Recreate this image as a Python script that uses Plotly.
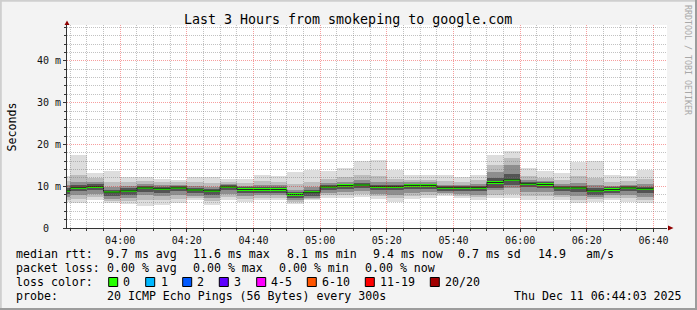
import plotly.graph_objects as go
import pandas as pd
import math

DAY = "2025-12-11"
X_START = "2025-12-11 03:44:03"
X_END = "2025-12-11 06:44:03"

slot_start = ["03:40", "03:45", "03:50", "03:55", "04:00", "04:05", "04:10", "04:15", "04:20", "04:25",
              "04:30", "04:35", "04:40", "04:45", "04:50", "04:55", "05:00", "05:05", "05:10", "05:15",
              "05:20", "05:25", "05:30", "05:35", "05:40", "05:45", "05:50", "05:55", "06:00", "06:05",
              "06:10", "06:15", "06:20", "06:25", "06:30", "06:35"]

median_ms = [8.9, 9.65, 9.9, 8.6, 8.9, 9.6, 9.4, 9.6, 9.1, 8.9,
             9.85, 9.2, 9.2, 9.2, 8.0, 8.55, 9.85, 10.15, 10.3, 9.9,
             9.9, 10.2, 10.2, 9.65, 9.65, 9.65, 10.9, 11.55, 10.6, 10.4,
             9.6, 9.6, 8.9, 9.2, 9.6, 9.4]

# smoke bands (outer -> inner), values in ms
smoke_hi1 = [12.5, 17.5, 13.1, 13.7, 12.3, 12.1, 11.8, 11.5, 12.1, 12.1,
             11.7, 11.7, 12.8, 12.5, 13.4, 13.9, 13.7, 14.4, 16.1, 16.3,
             14.0, 12.7, 12.7, 12.6, 12.3, 12.8, 17.5, 18.5, 14.3, 13.7,
             13.2, 15.8, 16.0, 12.7, 12.4, 13.9]
smoke_lo1 = [6.2, 5.9, 6.7, 5.9, 5.7, 5.3, 5.6, 6.1, 6.7, 5.6,
             6.7, 6.3, 6.7, 6.7, 5.7, 6.7, 7.1, 7.3, 7.5, 6.9,
             6.3, 6.9, 7.3, 7.7, 7.1, 6.7, 7.3, 7.1, 6.7, 6.7,
             6.7, 5.9, 6.3, 6.7, 6.3, 5.9]
smoke_hi2 = [11.2, 12.6, 12.0, 11.0, 11.0, 11.2, 11.0, 10.9, 10.9, 10.8,
             11.0, 10.8, 11.2, 11.0, 10.6, 11.0, 11.8, 12.2, 12.8, 12.5,
             11.8, 11.6, 11.6, 11.2, 11.0, 11.4, 15.1, 16.7, 12.4, 12.0,
             11.6, 12.4, 12.0, 11.0, 11.2, 11.8]
smoke_lo2 = [6.8, 7.0, 7.4, 6.5, 6.5, 6.6, 6.7, 7.0, 7.2, 6.4,
             7.4, 7.0, 7.2, 7.2, 6.2, 7.0, 7.8, 8.0, 8.1, 7.6,
             7.2, 7.7, 8.0, 8.1, 7.6, 7.4, 7.9, 8.1, 7.7, 7.7,
             7.4, 6.8, 6.9, 7.2, 7.1, 6.7]
smoke_hi3 = [10.2, 11.0, 11.0, 9.8, 10.0, 10.5, 10.3, 10.4, 10.1, 9.9,
             10.6, 10.1, 10.3, 10.2, 9.2, 9.8, 10.8, 11.1, 11.4, 11.1,
             10.9, 10.9, 10.9, 10.4, 10.4, 10.5, 13.5, 15.1, 11.6, 11.3,
             10.6, 10.8, 10.2, 10.1, 10.4, 10.5]
smoke_lo3 = [7.4, 8.0, 8.2, 7.0, 7.2, 7.8, 7.7, 8.0, 7.7, 7.2,
             8.2, 7.7, 7.8, 7.8, 6.6, 7.3, 8.4, 8.6, 8.8, 8.2,
             8.0, 8.4, 8.6, 8.4, 8.1, 8.0, 9.1, 9.5, 8.6, 8.6,
             8.0, 7.6, 7.4, 7.8, 7.9, 7.5]
smoke_hi4 = [9.6, 10.3, 10.5, 9.2, 9.5, 10.1, 9.9, 10.1, 9.6, 9.4,
             10.3, 9.7, 9.7, 9.7, 8.6, 9.1, 10.3, 10.6, 10.8, 10.4,
             10.4, 10.6, 10.6, 10.0, 10.0, 10.1, 12.0, 13.0, 11.1, 10.9,
             10.1, 10.1, 9.5, 9.7, 10.0, 9.9]
smoke_lo4 = [8.1, 8.8, 9.0, 7.7, 8.0, 8.7, 8.5, 8.8, 8.3, 8.0,
             9.0, 8.4, 8.4, 8.4, 7.1, 7.7, 9.0, 9.4, 9.5, 9.0,
             9.0, 9.4, 9.4, 8.9, 8.9, 8.9, 9.6, 10.2, 9.7, 9.5,
             8.8, 8.7, 8.0, 8.4, 8.8, 8.5]

y_tick_vals = [0, 10, 20, 30, 40]
y_tick_text = ["0\u00a0\u00a0", "10 m", "20 m", "30 m", "40 m"]

loss_labels = ["0", "1", "2", "3", "4-5", "6-10", "11-19", "20/20"]
loss_colors = ["#26ff00", "#00b8ff", "#0059ff", "#5e00ff", "#ff00ff", "#ff5500", "#ff0000", "#a10000"]

rtt_stats = ["9.7 ms avg", "11.6 ms max", "8.1 ms min", "9.4 ms now", "0.7 ms sd", "14.9", "am/s"]
loss_stats = ["0.00 % avg", "0.00 % max", "0.00 % min", "0.00 % now"]
probe_text = "20 ICMP Echo Pings (56 Bytes) every 300s"
stamp_text = "Thu Dec 11 06:44:03 2025"
title_text = "Last 3 Hours from smokeping to google.com"

# ---------------- geometry helpers (pixels -> paper) ----------------
W, H = 697, 310
L, R, T, B = 67, 30, 25, 82
PW, PH = W - L - R, H - T - B
Y_MAX = 48.6


def px(xp):
    return (xp - L) / PW


def py(yp):
    return (H - B - yp) / PH


T0, T1 = pd.Timestamp(X_START), pd.Timestamp(X_END)
SPAN = (T1 - T0)


def snap_t(t):
    """Nudge a grid time so that its 1px line falls on a pixel centre."""
    p = L + (t - T0) / SPAN * PW
    p2 = math.floor(p) + 0.5
    return T0 + SPAN * ((p2 - L) / PW)


def snap_v(v):
    p = (H - B) - v / Y_MAX * PH
    p2 = math.floor(p) + 0.5
    return ((H - B) - p2) / PH * Y_MAX


MONO = "DejaVu Sans Mono"
STEP_MS = 300000

starts = pd.to_datetime([DAY + " " + s for s in slot_start])
centers = starts + pd.Timedelta(seconds=150)

fig = go.Figure()

bands = [
    (smoke_lo1, smoke_hi1, "#dddddd"),
    (smoke_lo2, smoke_hi2, "#bdbdbd"),
    (smoke_lo3, smoke_hi3, "#8e8e8e"),
    (smoke_lo4, smoke_hi4, "#545454"),
]
for lo, hi, col in bands:
    fig.add_trace(go.Bar(
        x=centers, base=lo, y=[h - l for l, h in zip(lo, hi)],
        width=STEP_MS, marker=dict(color=col, line=dict(width=0)),
        hoverinfo="skip", showlegend=False))

# thin dark step line under median
step_x = list(starts) + [starts[-1] + pd.Timedelta(seconds=300)]
step_y = list(median_ms) + [median_ms[-1]]
fig.add_trace(go.Scatter(x=step_x, y=step_y, mode="lines", line=dict(shape="hv", color="#202020", width=1),
                         hoverinfo="skip", showlegend=False))

# green median (loss 0)
GREEN_H = 0.55
fig.add_trace(go.Bar(
    x=centers, base=[m - GREEN_H / 2 for m in median_ms], y=[GREEN_H] * len(median_ms),
    width=STEP_MS, marker=dict(color=loss_colors[0], line=dict(width=0)),
    hoverinfo="skip", showlegend=False))

fig.update_layout(
    width=W, height=H,
    margin=dict(l=L, r=R, t=T, b=B, pad=0),
    paper_bgcolor="#f3f3f3", plot_bgcolor="#ffffff",
    barmode="overlay", bargap=0,
    showlegend=False,
    font=dict(family=MONO, size=10, color="#111"),
    xaxis=dict(
        type="date", range=[X_START, X_END],
        tick0=DAY + " 04:00:00", dtick=1200000, tickformat="%H:%M",
        showgrid=False,
        ticks="outside", ticklen=3, tickcolor="#333",
        tickfont=dict(family=MONO, size=10, color="#111"),
        showline=True, linecolor="#333", linewidth=1,
        zeroline=False, fixedrange=True,
        minor=dict(dtick=300000, tick0=DAY + " 04:00:00", showgrid=False,
                   ticks="outside", ticklen=2, tickcolor="#333"),
    ),
    yaxis=dict(
        range=[0, Y_MAX], tickvals=y_tick_vals, ticktext=y_tick_text,
        showgrid=False,
        ticks="outside", ticklen=3, tickcolor="#333",
        tickfont=dict(family=MONO, size=10, color="#111"),
        showline=True, linecolor="#333", linewidth=1,
        zeroline=False, fixedrange=True,
        minor=dict(dtick=2, tick0=0, showgrid=False,
                   ticks="outside", ticklen=2, tickcolor="#333"),
    ),
)

shapes = []

# grid drawn over the smoke, like rrdtool does
GRID = "rgba(120,120,120,0.45)"
MGRID = "rgba(235,0,0,0.38)"
DOT = "1px,1px"
for t in pd.date_range(DAY + " 03:45:00", DAY + " 06:40:00", freq="5min"):
    major = (t.minute % 20 == 0)
    ts = snap_t(t)
    shapes.append(dict(type="line", xref="x", yref="paper", x0=ts, x1=ts, y0=0, y1=1,
                       line=dict(color=MGRID if major else GRID, width=1, dash=DOT), layer="above"))
for v in range(2, 49, 2):
    major = (v % 10 == 0)
    vs = snap_v(v)
    shapes.append(dict(type="line", xref="paper", yref="y", x0=0, x1=1, y0=vs, y1=vs,
                       line=dict(color=MGRID if major else GRID, width=1, dash=DOT), layer="above"))

ann = []


def text(xp, yp, s, size=11.6, color="#000", anchor="left", angle=0):
    ann.append(dict(xref="paper", yref="paper", x=px(xp), y=py(yp), text=s, showarrow=False,
                    xanchor=anchor, yanchor="middle", textangle=angle, borderpad=0, borderwidth=0,
                    font=dict(family=MONO, size=size, color=color)))


text(348, 19, title_text, size=13.3, anchor="center")
text(11, 127.5, "Seconds", size=11.6, anchor="center", angle=-90)
text(688, 60, "RRDTOOL / TOBI OETIKER", size=8.3, color="#a8a8a8", anchor="center", angle=90)

# legend lines
LX = 16
rtt_x = [107.3, 193.3, 286.7, 372.7, 458, 537.7, 586.3]
loss_x = [107.3, 193.3, 279.3, 365.3]
row_y = [254.3, 268.3, 282, 296]

text(LX, row_y[0], "median rtt:")
for xv, s in zip(rtt_x, rtt_stats):
    text(xv, row_y[0], s)
text(LX, row_y[1], "packet loss:")
for xv, s in zip(loss_x, loss_stats):
    text(xv, row_y[1], s)
text(LX, row_y[2], "loss color:")

box_x = [108.7, 145.7, 182.7, 219.3, 256.7, 307.3, 365.3, 430.3]
lab_x = [123.3, 160.7, 197.3, 234.3, 270.7, 322.0, 380.3, 445.3]
for bx, lx, lab, col in zip(box_x, lab_x, loss_labels, loss_colors):
    shapes.append(dict(type="rect", xref="paper", yref="paper",
                       x0=px(bx), x1=px(bx + 9), y0=py(277.5), y1=py(286.5),
                       fillcolor=col, line=dict(color="#000", width=1), layer="above"))
    text(lx, row_y[2], lab)

text(LX, row_y[3], "probe:")
text(107.3, row_y[3], probe_text)
text(513.7, row_y[3], stamp_text)

# axis arrows
ARROW = "#900000"
shapes.append(dict(type="path", xref="paper", yref="paper", xsizemode="pixel", ysizemode="pixel",
                   xanchor=1, yanchor=0, path="M 1,2.5 L 1,-2.5 L 6.5,0 Z",
                   fillcolor=ARROW, line=dict(color=ARROW, width=0), layer="above"))
shapes.append(dict(type="path", xref="paper", yref="paper", xsizemode="pixel", ysizemode="pixel",
                   xanchor=0, yanchor=1, path="M -2.5,0 L 2.5,0 L 0,4.5 Z",
                   fillcolor=ARROW, line=dict(color=ARROW, width=0), layer="above"))

# 3D frame of the image
for x0, y0, x1, y1, col in [
    (0, 0.8, W, 0.8, "#cfcfcf"),
    (0.8, 0, 0.8, H, "#cfcfcf"),
    (0, H - 1, W, H - 1, "#9c9c9c"),
    (W - 1, 0, W - 1, H, "#9c9c9c"),
]:
    shapes.append(dict(type="line", xref="paper", yref="paper", x0=px(x0), y0=py(y0), x1=px(x1), y1=py(y1),
                       line=dict(color=col, width=2), layer="above"))

fig.update_layout(annotations=ann, shapes=shapes)

fig.write_html("out.html")
